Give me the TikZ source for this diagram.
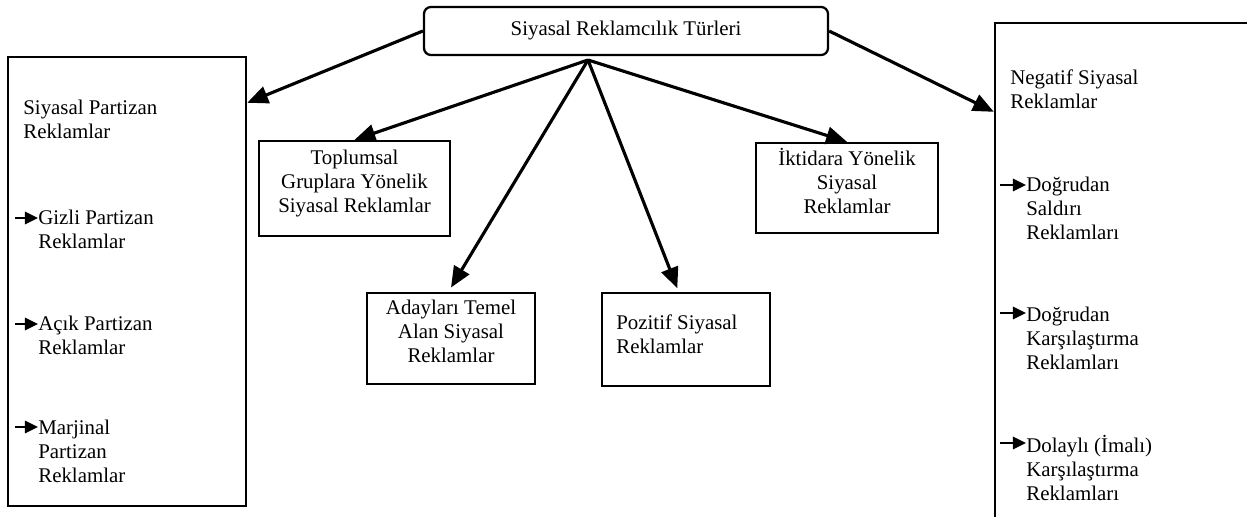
\documentclass[tikz,border=0pt]{standalone}
\usepackage{fontspec}
\setmainfont{Liberation Serif}
\usetikzlibrary{arrows.meta}

\begin{document}
\begin{tikzpicture}[x=0.575pt, y=-0.575pt, font=\fontsize{12pt}{13.8pt}\selectfont,
        box/.style={rectangle, draw=black, line width=1.3pt, inner sep=0pt},
        txt/.style={inner sep=0pt},
        arrow/.style={-{Triangle[length=12pt, width=10pt]}, line width=1.8pt},
        subarrow/.style={-{Triangle[length=7.5pt, width=7pt]}, line width=1.4pt}]

    \useasboundingbox (0,0) rectangle (1247,517);

    % main title
    \node (root) [box, rounded corners=4pt, minimum width=232.3pt, minimum height=27.6pt] at (626,31) {Siyasal Reklamcılık Türleri};
    \coordinate (fan) at (588,60);

    % left column
    \node (leftcol) [box, minimum width=136.9pt, minimum height=258.2pt] at (127,281.5) {};
    \node (partizan) [txt, anchor=west, align=left] at (23,119) {Siyasal Partizan\\Reklamlar};
    \node (gizli) [txt, anchor=west, align=left] at (38,229) {Gizli Partizan\\Reklamlar};
    \node (acik) [txt, anchor=west, align=left] at (38,335) {Açık Partizan\\Reklamlar};
    \node (marjinal) [txt, anchor=west, align=left] at (38,451) {Marjinal\\Partizan\\Reklamlar};

    % middle boxes
    \node (topl) [box, minimum width=109.8pt, minimum height=54.6pt] at (354.5,188.5) {};
    \node [txt, align=center] at (354.5,184) {Toplumsal\\Gruplara Yönelik\\Siyasal Reklamlar};
    \node (aday) [box, minimum width=96.6pt, minimum height=52.3pt] at (451,338.5) {};
    \node [txt, align=center] at (451,331) {Adayları Temel\\Alan Siyasal\\Reklamlar};
    \node (poz) [box, minimum width=96.6pt, minimum height=53.5pt] at (686,339.5) {};
    \node [txt, anchor=west, align=left] at (616,334.5) {Pozitif Siyasal\\Reklamlar};
    \node (ikt) [box, minimum width=104.7pt, minimum height=51.8pt] at (847,188) {};
    \node [txt, align=center] at (847,181) {İktidara Yönelik\\Siyasal\\Reklamlar};

    % right column
    \node (rightcol) [box, minimum width=149.5pt, minimum height=288.7pt] at (1125,274) {};
    \node (negatif) [txt, anchor=west, align=left] at (1010,89.5) {Negatif Siyasal\\Reklamlar};
    \node (saldiri) [txt, anchor=west, align=left] at (1026,208) {Doğrudan\\Saldırı\\Reklamları};
    \node (karsi) [txt, anchor=west, align=left] at (1026,338) {Doğrudan\\Karşılaştırma\\Reklamları};
    \node (dolayli) [txt, anchor=west, align=left] at (1026,468) {Dolaylı (İmalı)\\Karşılaştırma\\Reklamları};

    \draw [arrow] (root.west) -- ([yshift=-27pt]leftcol.north east);
    \draw [arrow] (root.east) -- ([yshift=-51.75pt]rightcol.north west);
    \draw [arrow] (fan) -- (topl.north);
    \draw [arrow] (fan) -- ([yshift=2.5pt]aday.north);
    \draw [arrow] (fan) -- ([xshift=-5pt, yshift=2pt]poz.north);
    \draw [arrow] (fan) -- (ikt.north);

    \foreach \n/\y in {gizli/218, acik/324, marjinal/427}{
        \coordinate (\n0) at (15,\y);
        \draw [subarrow] (\n0) -- (\n0 -| \n.west);
    }
    \foreach \n/\y in {saldiri/185, karsi/313, dolayli/443}{
        \coordinate (\n0) at (1000,\y);
        \draw [subarrow] (\n0) -- (\n0 -| \n.west);
    }
\end{tikzpicture}
\end{document}
